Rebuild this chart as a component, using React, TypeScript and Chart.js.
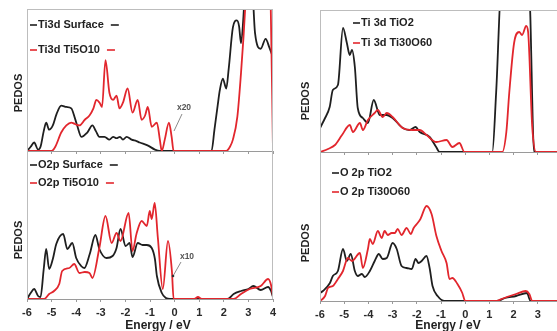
import React, { useEffect, useRef } from "react";
import { Chart, registerables } from "chart.js";

Chart.register(...registerables);

// ---------- DATA ----------
// Top-left: Ti3d (Surface vs Ti5O10)
const tlSurfX = [-6, -5.85, -5.71, -5.55, -5.45, -5.32, -5.22, -5.1, -4.95, -4.8, -4.61, -4.4, -4.2, -4.05, -3.96, -3.79, -3.55, -3.34, -3.2, -3.06, -2.85, -2.65, -2.5, -2.36, -2.22, -2.1, -1.95, -1.75, -1.55, -1.42, -1.1, -0.8, -0.6, 1.5, 1.62, 1.75, 1.84, 1.96, 2.1, 2.2, 2.37, 2.53, 2.62, 2.7, 2.8, 2.9, 3.0, 3.15, 3.27, 3.5, 3.7, 3.85, 4.0];
const tlSurfY = [0, 0.3, 0.6, 0.1, 0.3, 1.4, 2.0, 1.5, 1.8, 2.6, 3.2, 3.1, 3.0, 2.3, 1.8, 1.0, 1.3, 1.8, 1.4, 1.0, 1.0, 0.8, 1.0, 0.9, 1.0, 0.8, 1.0, 0.8, 0.7, 0.6, 0.4, 0.1, 0, 0, 1.5, 3.2, 4.3, 5.1, 4.4, 5.8, 8.7, 9.2, 8.8, 7.6, 9.5, 13, 14, 12, 8.3, 7.2, 7.9, 7.3, 6.6];
const tlTiX = [-6, -5.0, -4.85, -4.61, -4.4, -4.2, -4.05, -3.87, -3.65, -3.46, -3.3, -3.18, -3.05, -2.95, -2.81, -2.65, -2.5, -2.36, -2.24, -2.1, -1.91, -1.71, -1.5, -1.34, -1.2, -1.09, -0.93, -0.72, -0.6, -0.52, -0.4, -0.23, -0.12, -0.04, 2.1, 2.25, 2.37, 2.55, 2.7, 2.8, 2.9, 3.0, 3.8, 3.9, 4.0];
const tlTiY = [0, 0, 0.3, 1.3, 1.8, 2.0, 1.9, 1.8, 2.2, 2.5, 3.0, 3.6, 3.4, 3.1, 6.4, 4.1, 3.6, 3.9, 3.0, 3.4, 4.4, 2.7, 3.6, 2.2, 2.5, 3.1, 1.7, 2.0, 0.8, 0, 0.8, 2.0, 1.0, 0, 0, 0.3, 0.8, 2.4, 5.5, 8.0, 11, 14, 14, 11, 0];

// Bottom-left: O2p (Surface vs Ti5O10)
const blSurfX = [-6, -5.85, -5.71, -5.55, -5.45, -5.32, -5.22, -5.1, -4.95, -4.81, -4.53, -4.36, -4.16, -4.0, -3.8, -3.67, -3.45, -3.22, -3.06, -2.77, -2.52, -2.36, -2.2, -1.99, -1.83, -1.71, -1.5, -1.3, -1.13, -0.93, -0.8, -0.72, -0.52, -0.35, -0.19, 2.15, 2.4, 2.7, 3.0, 3.2, 3.5, 3.8, 3.92, 4.0];
const blSurfY = [0, 6, 10, 3, 2, 30, 50, 30, 40, 55, 65, 50, 56, 41, 33, 31, 45, 64, 50, 41, 43, 51, 70, 53, 56, 42, 56, 54, 54, 51, 40, 23, 6, 1, 0, 0, 5, 8, 10, 13, 9, 12, 8, 2];
const blTiX = [-6, -5.3, -5.1, -4.9, -4.69, -4.57, -4.28, -4.08, -3.87, -3.65, -3.46, -3.34, -3.06, -2.81, -2.56, -2.36, -2.2, -1.87, -1.71, -1.55, -1.34, -1.13, -1.01, -0.93, -0.81, -0.68, -0.48, -0.27, -0.11, -0.04, 0.8, 0.95, 1.1, 2.4, 2.7, 3.05, 3.5, 3.8, 3.92, 4.0];
const blTiY = [0, 0, 5, 8, 15, 28, 31, 35, 26, 27, 26, 21, 51, 83, 56, 66, 58, 86, 48, 65, 78, 73, 88, 80, 96, 61, 10, 58, 28, 0, 0, 2, 0, 0, 5, 10, 13, 20, 14, 2];

// Top-right: Ti 3d (TiO2 vs Ti30O60)
const trTiO2X = [-6, -5.79, -5.6, -5.47, -5.26, -5.05, -4.89, -4.77, -4.68, -4.56, -4.44, -4.23, -4.02, -3.78, -3.53, -3.24, -3.0, -2.58, -2.3, -2.05, -1.88, -1.47, -1.2, -1.06, 1.12, 1.28, 1.49, 2.64, 2.85, 4];
const trTiO2Y = [24, 34, 45, 62, 67, 124, 109, 97, 102, 85, 44, 34, 29, 52, 37, 37, 34, 24, 22, 25, 20, 15, 5, 0, 0, 60, 160, 160, 0, 0];
const trTi30X = [-6, -5.67, -5.38, -5.09, -4.77, -4.64, -4.35, -4.23, -4.02, -3.74, -3.61, -3.41, -3.24, -3.0, -2.58, -2.17, -1.88, -1.6, -1.19, -0.77, -0.53, -0.24, -0.03, 1.53, 1.7, 1.82, 2.02, 2.23, 2.35, 2.52, 2.6, 2.77, 2.93, 4];
const trTi30Y = [0, 3, 7, 17, 27, 20, 29, 22, 32, 39, 42, 35, 39, 35, 24, 22, 22, 17, 10, 12, 5, 9, 0, 0, 20, 59, 109, 120, 117, 126, 120, 25, 0, 0];

// Bottom-right: O 2p (TiO2 vs Ti30O60)
const brTiO2X = [-6, -5.88, -5.59, -5.47, -5.26, -5.05, -4.89, -4.73, -4.56, -4.44, -4.27, -4.15, -3.94, -3.74, -3.57, -3.41, -3.24, -3.0, -2.83, -2.63, -2.42, -2.21, -2.05, -1.93, -1.8, -1.6, -1.47, -1.35, -1.14, -0.85, 1.3, 1.65, 2.1, 2.55, 2.7, 4];
const brTiO2Y = [8, 10, 18, 25, 30, 52, 40, 47, 30, 25, 27, 24, 30, 40, 47, 42, 43, 58, 52, 35, 33, 32, 42, 38, 40, 45, 33, 15, 5, 0, 0, 3, 5, 8, 0, 0];
const brTi30X = [-6, -5.79, -5.67, -5.47, -5.26, -5.05, -4.85, -4.68, -4.35, -4.23, -4.02, -3.94, -3.82, -3.61, -3.45, -3.33, -3.2, -3.04, -2.91, -2.79, -2.63, -2.42, -2.25, -2.13, -2.0, -1.85, -1.6, -1.39, -1.19, -0.98, -0.77, -0.65, -0.53, -0.32, -0.12, 0, 1.3, 1.5, 2.1, 2.5, 2.65, 2.77, 4];
const brTi30Y = [0, 5, 13, 15, 22, 30, 43, 40, 48, 33, 52, 62, 57, 70, 63, 70, 66, 68, 68, 72, 66, 73, 67, 73, 77, 82, 95, 87, 65, 50, 38, 22, 23, 17, 8, 0, 0, 2, 7, 10, 7, 0, 0];

const xMin = -6;
const xMax = 4;
const yLabel = "PEDOS";
const xLabel = "Energy / eV";

// ---------- STYLE ----------
const BLACK = "#1f1f1f";
const RED = "#e2262d";
const FRAME = "#bdbdbd";
const AXIS = "#9a9a9a";
const FONT = "'Liberation Sans', Arial, Helvetica, sans-serif";

type Decor = (ctx: CanvasRenderingContext2D, chart: any) => void;

function pts(xs: number[], ys: number[]) {
  return xs.map((x, i) => ({ x, y: ys[i] }));
}

function legendRow(ctx: CanvasRenderingContext2D, x: number, y: number, color: string, text: string, trailing: boolean) {
  ctx.save();
  ctx.strokeStyle = color;
  ctx.lineWidth = 1.6;
  ctx.beginPath();
  ctx.moveTo(x, y);
  ctx.lineTo(x + 7, y);
  ctx.stroke();
  ctx.font = `bold 11px ${FONT}`;
  ctx.fillStyle = "#222";
  ctx.textBaseline = "middle";
  ctx.textAlign = "left";
  ctx.fillText(text, x + 8, y);
  if (trailing) {
    const w = ctx.measureText(text).width;
    const tx = x + 8 + w + 7;
    ctx.beginPath();
    ctx.moveTo(tx, y);
    ctx.lineTo(tx + 8, y);
    ctx.stroke();
  }
  ctx.restore();
}

function vText(ctx: CanvasRenderingContext2D, x: number, y: number, text: string) {
  ctx.save();
  ctx.translate(x, y);
  ctx.rotate(-Math.PI / 2);
  ctx.font = `bold 11px ${FONT}`;
  ctx.fillStyle = "#222";
  ctx.textAlign = "center";
  ctx.textBaseline = "middle";
  ctx.fillText(text, 0, 0);
  ctx.restore();
}

function hText(ctx: CanvasRenderingContext2D, x: number, y: number, text: string, size: number, color: string) {
  ctx.save();
  ctx.font = `bold ${size}px ${FONT}`;
  ctx.fillStyle = color;
  ctx.textAlign = "center";
  ctx.textBaseline = "middle";
  ctx.fillText(text, x, y);
  ctx.restore();
}

function leader(ctx: CanvasRenderingContext2D, x1: number, y1: number, x2: number, y2: number, dot: boolean) {
  ctx.save();
  ctx.strokeStyle = "#8a8a8a";
  ctx.lineWidth = 1;
  ctx.beginPath();
  ctx.moveTo(x1, y1);
  ctx.lineTo(x2, y2);
  ctx.stroke();
  if (dot) {
    ctx.fillStyle = "#333";
    ctx.beginPath();
    ctx.arc(x2, y2, 1.3, 0, Math.PI * 2);
    ctx.fill();
  }
  ctx.restore();
}

interface PanelProps {
  left: number;
  top: number;
  width: number;
  height: number;
  pad: { left: number; right: number; top: number; bottom: number };
  axisHeight: number;
  showTicks: boolean;
  yMax: number;
  blackX: number[];
  blackY: number[];
  redX: number[];
  redY: number[];
  blackLabel: string;
  redLabel: string;
  frame: { top?: boolean; left?: boolean; right?: boolean };
  decor: Decor;
}

function Panel(p: PanelProps) {
  const ref = useRef<HTMLCanvasElement | null>(null);
  useEffect(() => {
    if (!ref.current) return;
    const framePlugin = {
      id: "frameDecor",
      afterDraw(chart: any) {
        const ctx: CanvasRenderingContext2D = chart.ctx;
        const a = chart.chartArea;
        const l = Math.round(a.left) + 0.5;
        const r = Math.round(a.right) - 0.5;
        const t = Math.round(a.top) + 0.5;
        const b = Math.round(a.bottom);
        ctx.save();
        ctx.strokeStyle = FRAME;
        ctx.lineWidth = 1;
        ctx.beginPath();
        if (p.frame.left) { ctx.moveTo(l, a.top); ctx.lineTo(l, b); }
        if (p.frame.right) { ctx.moveTo(r, a.top); ctx.lineTo(r, b); }
        if (p.frame.top) { ctx.moveTo(a.left, t); ctx.lineTo(a.right, t); }
        ctx.stroke();
        ctx.restore();
        p.decor(ctx, chart);
      },
    };
    const chart = new Chart(ref.current, {
      type: "line",
      data: {
        datasets: [
          {
            label: p.redLabel,
            data: pts(p.redX, p.redY),
            borderColor: RED,
            borderWidth: 1.8,
            pointRadius: 0,
            fill: false,
            cubicInterpolationMode: "monotone",
          },
          {
            label: p.blackLabel,
            data: pts(p.blackX, p.blackY),
            borderColor: BLACK,
            borderWidth: 1.8,
            pointRadius: 0,
            fill: false,
            cubicInterpolationMode: "monotone",
          },
        ],
      },
      options: {
        animation: false,
        responsive: false,
        devicePixelRatio: 1,
        layout: { padding: p.pad },
        plugins: { legend: { display: false }, tooltip: { enabled: false } },
        scales: {
          x: {
            type: "linear",
            min: xMin,
            max: xMax,
            position: "bottom",
            ticks: {
              display: p.showTicks,
              stepSize: 1,
              autoSkip: false,
              maxRotation: 0,
              color: "#2a2a2a",
              padding: 4,
              font: { family: FONT, size: 11, weight: "bold" },
            },
            grid: { display: true, drawOnChartArea: false, drawTicks: true, tickLength: 3, color: AXIS },
            border: { display: true, color: AXIS, width: 1 },
            afterFit: (s: any) => { s.height = p.axisHeight; },
          },
          y: { display: false, min: 0, max: p.yMax },
        },
      },
      plugins: [framePlugin],
    } as any);
    return () => chart.destroy();
  }, []);
  return (
    <canvas
      ref={ref}
      width={p.width}
      height={p.height}
      style={{ position: "absolute", left: p.left, top: p.top, width: p.width, height: p.height }}
    />
  );
}

export default function App() {
  return (
    <div style={{ position: "fixed", left: 0, top: 0, width: 557, height: 331, overflow: "hidden", background: "#fff" }}>
      <Panel
        left={0} top={0} width={290} height={160}
        pad={{ left: 27, right: 17, top: 9, bottom: 6 }}
        axisHeight={3} showTicks={false} yMax={10}
        blackX={tlSurfX} blackY={tlSurfY} redX={tlTiX} redY={tlTiY}
        blackLabel="Ti3d Surface" redLabel="Ti3d Ti5O10"
        frame={{ top: true, left: true, right: true }}
        decor={(ctx) => {
          legendRow(ctx, 30, 25, BLACK, "Ti3d Surface", true);
          legendRow(ctx, 30, 50, RED, "Ti3d Ti5O10", true);
          vText(ctx, 19, 93, yLabel);
          hText(ctx, 184, 108, "x20", 8.5, "#555");
          leader(ctx, 182, 114, 174, 131, false);
        }}
      />
      <Panel
        left={0} top={151} width={290} height={180}
        pad={{ left: 27, right: 17, top: 0, bottom: 0 }}
        axisHeight={32} showTicks={true} yMax={148}
        blackX={blSurfX} blackY={blSurfY} redX={blTiX} redY={blTiY}
        blackLabel="O2p Surface" redLabel="O2p Ti5O10"
        frame={{ left: true, right: true }}
        decor={(ctx) => {
          legendRow(ctx, 30, 14, BLACK, "O2p Surface", true);
          legendRow(ctx, 30, 32, RED, "O2p Ti5O10", true);
          vText(ctx, 19, 89, yLabel);
          hText(ctx, 187, 106, "x10", 8.5, "#555");
          leader(ctx, 181, 111, 173, 125, true);
          hText(ctx, 158, 175, xLabel, 12, "#222");
        }}
      />
      <Panel
        left={290} top={0} width={285} height={161}
        pad={{ left: 30, right: 13, top: 10, bottom: 6 }}
        axisHeight={3} showTicks={false} yMax={142}
        blackX={trTiO2X} blackY={trTiO2Y} redX={trTi30X} redY={trTi30Y}
        blackLabel="Ti 3d TiO2" redLabel="Ti 3d Ti30O60"
        frame={{ top: true, left: true }}
        decor={(ctx) => {
          legendRow(ctx, 63, 23, BLACK, "Ti 3d TiO2", false);
          legendRow(ctx, 63, 43, RED, "Ti 3d Ti30O60", false);
          vText(ctx, 16, 101, yLabel);
        }}
      />
      <Panel
        left={290} top={152} width={285} height={179}
        pad={{ left: 30, right: 13, top: 0, bottom: 0 }}
        axisHeight={30} showTicks={true} yMax={149}
        blackX={brTiO2X} blackY={brTiO2Y} redX={brTi30X} redY={brTi30Y}
        blackLabel="O 2p TiO2" redLabel="O 2p Ti30O60"
        frame={{ left: true }}
        decor={(ctx) => {
          legendRow(ctx, 42, 21, BLACK, "O 2p TiO2", false);
          legendRow(ctx, 42, 40, RED, "O 2p Ti30O60", false);
          vText(ctx, 16, 91, yLabel);
          hText(ctx, 158, 174, xLabel, 12, "#222");
        }}
      />
    </div>
  );
}
